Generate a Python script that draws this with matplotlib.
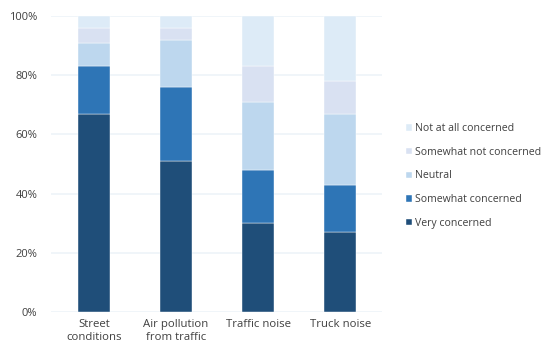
import numpy as np
import matplotlib
matplotlib.use('Agg')
import matplotlib.pyplot as plt
from matplotlib.ticker import PercentFormatter

categories = ['Street\nconditions', 'Air pollution\nfrom traffic', 'Traffic noise', 'Truck noise']
series_names = ['Very concerned', 'Somewhat concerned', 'Neutral',
                'Somewhat not concerned', 'Not at all concerned']
very_concerned = [67, 51, 30, 27]
somewhat_concerned = [16, 25, 18, 16]
neutral = [8, 16, 23, 24]
somewhat_not = [5, 4, 12, 11]
not_at_all = [4, 4, 17, 22]
colors = ['#1f4e79', '#2e75b6', '#bdd7ee', '#d9e1f2', '#ddebf7']

plt.rcParams['font.family'] = ['Open Sans', 'DejaVu Sans']

fig = plt.figure(figsize=(5.45, 3.54), dpi=100)
ax = fig.add_axes([0.094, 0.118, 0.606, 0.837])

x = np.arange(len(categories))
bottom = np.zeros(len(categories))
for name, vals, col in zip(series_names,
                           [very_concerned, somewhat_concerned, neutral, somewhat_not, not_at_all],
                           colors):
    vals = np.array(vals, dtype=float)
    ax.bar(x, vals, 0.39, bottom=bottom, color=col, label=name, zorder=2,
           edgecolor='white', linewidth=0.3)
    bottom += vals

ax.set_xlim(-0.52, 3.5)
ax.set_ylim(0, 100)
ax.set_yticks(range(0, 101, 20))
ax.yaxis.set_major_formatter(PercentFormatter(decimals=0))
ax.set_xticks(x)
ax.set_xticklabels(categories, fontsize=8.2, color='#404040', linespacing=1.25)
ax.tick_params(axis='y', labelsize=8, labelcolor='#404040', length=0, pad=10)
ax.tick_params(axis='x', length=0, pad=5)
ax.grid(axis='y', color='#eef3f8', linewidth=1.2, zorder=0)
for s in ax.spines.values():
    s.set_visible(False)

handles, labels = ax.get_legend_handles_labels()
leg = fig.legend(handles[::-1], labels[::-1], loc='center left', bbox_to_anchor=(0.727, 0.503),
                 frameon=False, fontsize=7.6, handlelength=0.55, handleheight=0.55,
                 handletextpad=0.3, labelspacing=1.2, labelcolor='#404040')

fig.savefig('out.png', dpi=100)
